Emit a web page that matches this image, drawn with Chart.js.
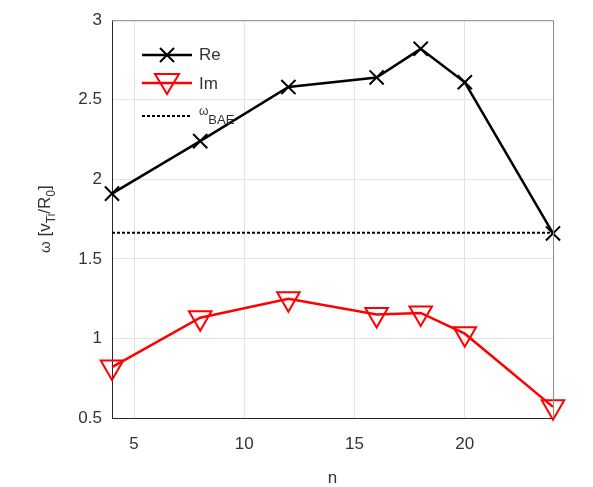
<!DOCTYPE html>
<html>
<head>
<meta charset="utf-8">
<script src="https://cdn.jsdelivr.net/npm/chart.js@4/dist/chart.umd.min.js"></script>
<style>
  body { margin: 0; background: #fff; }
  #wrap { width: 593px; height: 487px; }
</style>
</head>
<body>
<div id="wrap"><canvas id="myChart" width="593" height="487"></canvas></div>
<script>
var nValues = [4, 8, 12, 16, 18, 20, 24];
var reValues = [1.91, 2.24, 2.58, 2.64, 2.82, 2.61, 1.66];
var imValues = [0.82, 1.13, 1.25, 1.15, 1.16, 1.03, 0.57];
var baeLevel = 1.665;
var baeRange = [4, 24];
var xTicks = [5, 10, 15, 20];
var yTicks = [0.5, 1, 1.5, 2, 2.5, 3];

var FONT = "'Liberation Sans', Arial, sans-serif";

function toPoints(xs, ys) {
  return xs.map(function (x, i) { return { x: x, y: ys[i] }; });
}

// box, y title with subscripts, legend in the top-left corner
var extras = {
  id: "extras",
  afterDraw: function (chart) {
    var c = chart.ctx, a = chart.chartArea;
    c.save();
    c.strokeStyle = "#8c8c8c";
    c.lineWidth = 1;
    c.beginPath();
    c.moveTo(a.left, a.top + 0.5);
    c.lineTo(a.right + 0.5, a.top + 0.5);
    c.lineTo(a.right + 0.5, a.bottom);
    c.stroke();

    // y axis title
    c.save();
    c.translate(44, (a.top + a.bottom) / 2);
    c.rotate(-Math.PI / 2);
    c.fillStyle = "#333";
    c.textBaseline = "alphabetic";
    var parts = [
      ["ω", 15, 0], [" [v", 17, 0], ["Ti", 12, 5], ["/R", 17, 0], ["0", 12, 5], ["]", 17, 0]
    ];
    var total = 0;
    parts.forEach(function (p) { c.font = p[1] + "px " + FONT; total += c.measureText(p[0]).width; });
    var x = -total / 2;
    parts.forEach(function (p) {
      c.font = p[1] + "px " + FONT;
      c.fillText(p[0], x, 6 + p[2]);
      x += c.measureText(p[0]).width;
    });
    c.restore();

    // legend
    var lx0 = 142, lx1 = 192, tx = 199;
    var rows = [55, 83, 116];
    c.lineWidth = 2.5;
    // Re
    c.strokeStyle = "#000";
    c.beginPath(); c.moveTo(lx0, rows[0]); c.lineTo(lx1, rows[0]); c.stroke();
    c.lineWidth = 2;
    c.beginPath();
    c.moveTo(167 - 7, rows[0] - 7); c.lineTo(167 + 7, rows[0] + 7);
    c.moveTo(167 + 7, rows[0] - 7); c.lineTo(167 - 7, rows[0] + 7);
    c.stroke();
    // Im
    c.lineWidth = 2.5;
    c.strokeStyle = "#ff0000";
    c.beginPath(); c.moveTo(lx0, rows[1]); c.lineTo(lx1, rows[1]); c.stroke();
    c.lineWidth = 2;
    c.beginPath();
    c.moveTo(167 - 12, rows[1] - 9); c.lineTo(167 + 12, rows[1] - 9); c.lineTo(167, rows[1] + 11); c.closePath();
    c.stroke();
    // BAE
    c.strokeStyle = "#000";
    c.lineWidth = 2;
    c.setLineDash([3, 2]);
    c.beginPath(); c.moveTo(lx0, rows[2]); c.lineTo(lx1, rows[2]); c.stroke();
    c.setLineDash([]);

    c.fillStyle = "#333";
    c.textBaseline = "middle";
    c.font = "17px " + FONT;
    c.fillText("Re", tx, rows[0]);
    c.fillText("Im", tx, rows[1] + 1);
    c.font = "12px " + FONT;
    c.fillText("ω", tx, rows[2] - 4);
    var w = c.measureText("ω").width;
    c.font = "13px " + FONT;
    c.fillText("BAE", tx + w, rows[2] + 4);
    c.restore();
  }
};

var ctx = document.getElementById("myChart").getContext("2d");
var myChart = new Chart(ctx, {
  type: "line",
  data: {
    datasets: [
      {
        label: "ωBAE",
        data: toPoints(baeRange, [baeLevel, baeLevel]),
        borderColor: "#000",
        borderWidth: 2,
        borderDash: [3, 2],
        pointRadius: 0,
        fill: false,
      },
      {
        label: "Re",
        data: toPoints(nValues, reValues),
        borderColor: "#000",
        borderWidth: 2.5,
        pointStyle: "crossRot",
        pointRadius: 10,
        pointBorderWidth: 2,
        pointBorderColor: "#000",
        fill: false,
      },
      {
        label: "Im",
        data: toPoints(nValues, imValues),
        borderColor: "#ff0000",
        borderWidth: 2.5,
        pointStyle: "triangle",
        pointRotation: 180,
        pointRadius: 13,
        pointBorderWidth: 2,
        pointBorderColor: "#ff0000",
        pointBackgroundColor: "rgba(0,0,0,0)",
        fill: false,
      },
    ],
  },
  options: {
    responsive: false,
    animation: false,
    clip: false,
    layout: { padding: { left: 0, top: 15, right: 40, bottom: 0 } },
    plugins: {
      legend: { display: false },
      tooltip: { enabled: false },
    },
    scales: {
      x: {
        type: "linear",
        min: 4,
        max: 24,
        afterBuildTicks: function (s) { s.ticks = xTicks.map(function (v) { return { value: v }; }); },
        afterFit: function (s) { s.height = 69; },
        grid: { color: "#e3e3e3", drawTicks: false },
        border: { color: "#262626", width: 1 },
        ticks: { color: "#333", font: { family: FONT, size: 17 }, padding: 16, maxRotation: 0 },
        title: { display: true, text: "n", color: "#333", font: { family: FONT, size: 17 }, padding: { top: 8, bottom: -2 } },
      },
      y: {
        min: 0.5,
        max: 3,
        afterBuildTicks: function (s) { s.ticks = yTicks.map(function (v) { return { value: v }; }); },
        afterFit: function (s) { s.width = 112; },
        grid: { color: "#e3e3e3", drawTicks: false },
        border: { color: "#262626", width: 1 },
        ticks: {
          color: "#333", font: { family: FONT, size: 17 }, padding: 10,
          callback: function (v) { return String(v); },
        },
      },
    },
  },
  plugins: [extras],
});
</script>
</body>
</html>
